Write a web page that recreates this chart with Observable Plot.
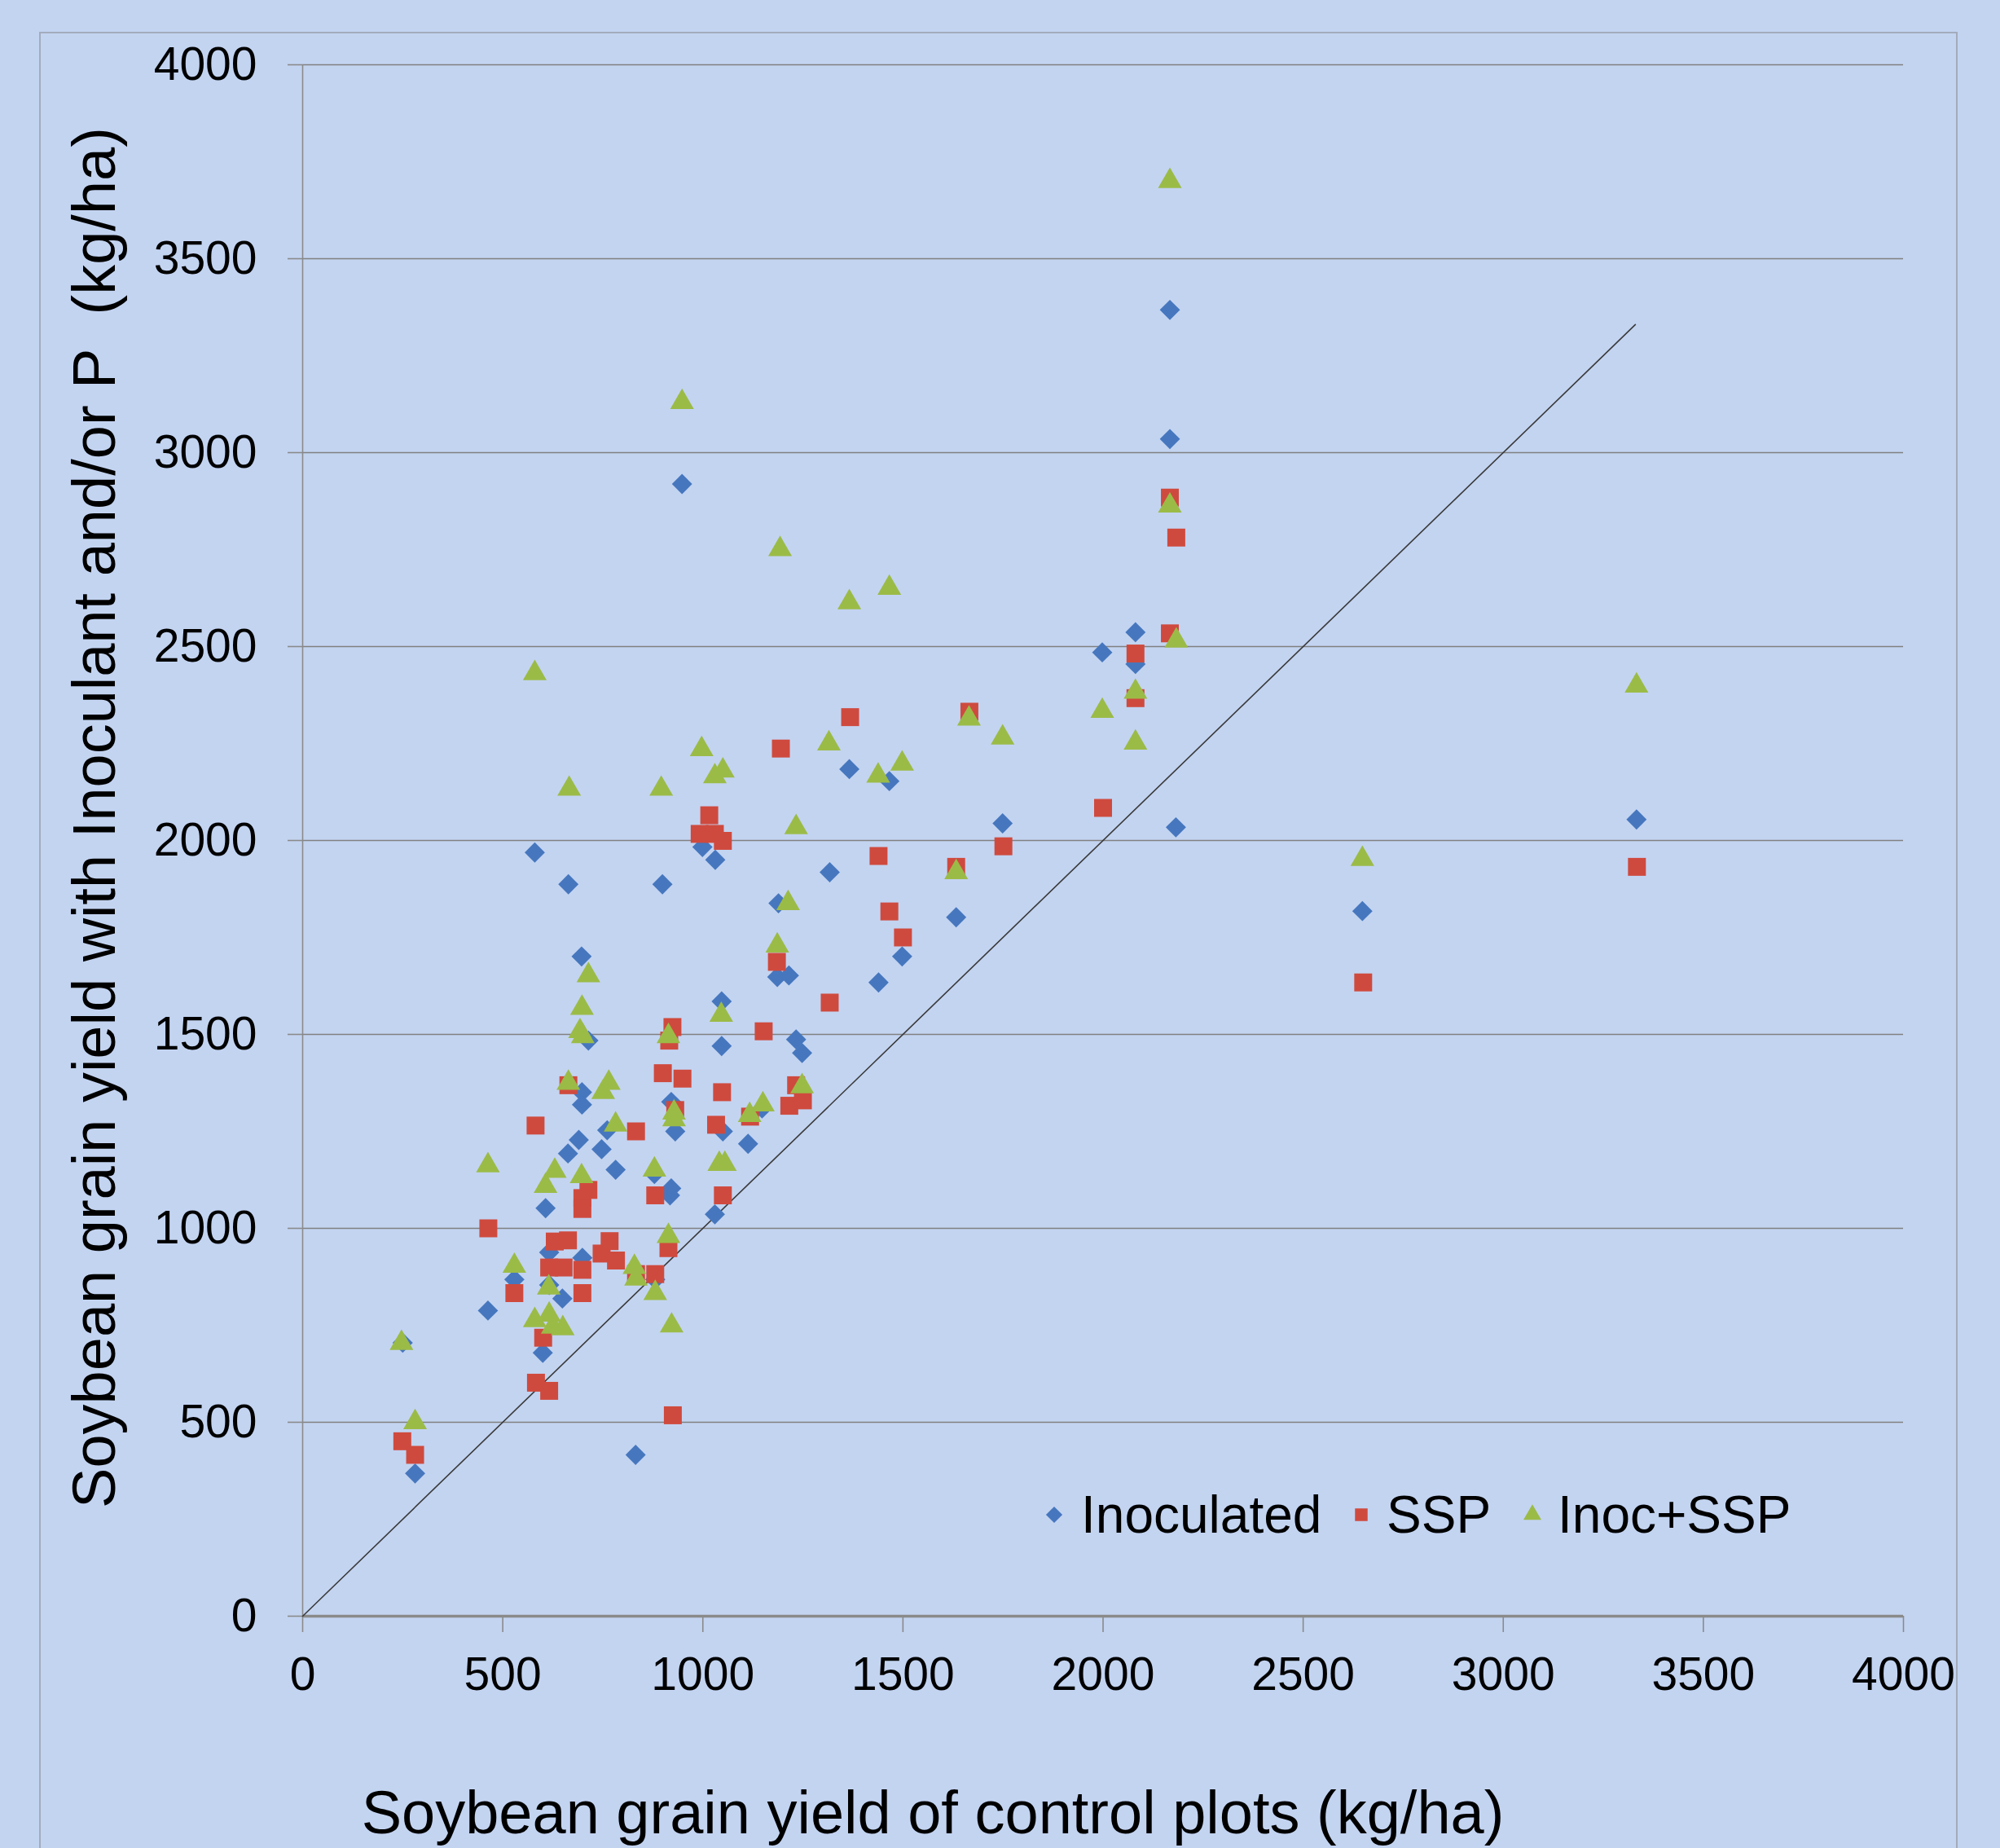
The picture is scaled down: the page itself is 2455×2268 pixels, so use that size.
<!DOCTYPE html>
<html>
<head>
<meta charset="utf-8">
<script src="https://cdn.jsdelivr.net/npm/d3@7"></script>
<script src="https://cdn.jsdelivr.net/npm/@observablehq/plot@0.6"></script>
<style>
  html, body { margin: 0; padding: 0; }
  body {
    width: 2455px; height: 2268px; overflow: hidden; position: relative;
    background: #c3d4f1;
    font-family: "Liberation Sans", Arial, sans-serif;
  }
  #frame {
    position: absolute; left: 48px; top: 39px; width: 2355px; height: 2260px;
    border: 2px solid #a3abbb; border-bottom: none; box-sizing: border-box;
  }
  #chart { position: absolute; left: 0; top: 0; }
  #legend { position: absolute; left: 0; top: 0; width: 2455px; height: 2268px; pointer-events: none; }
  .lg-item { position: absolute; font-size: 64px; line-height: 64px; color: #000; white-space: nowrap; }
  .lg-sym { position: absolute; }
</style>
</head>
<body>
<div id="frame"></div>
<div id="chart"></div>
<div id="legend"></div>
<script>
// ---- data (kg/ha) ----
const seriesNames = ["Inoculated", "SSP", "Inoc+SSP"];
const seriesColors = ["#4677be", "#cf4a3e", "#9bbb47"];

const inocX = [250,281,463,529,580,600,607,616,616,649,663,664,690,697,698,698,699,714,747,761,782,832,879,881,899,918,921,921,931,948,999,1030,1031,1047,1047,1050,1113,1148,1186,1189,1215,1233,1248,1317,1366,1439,1466,1498,1633,1749,1998,2081,2081,2167,2167,2182,2648,3333];
const inocY = [705,368,788,868,1969,679,1052,938,854,819,1193,1887,1228,1701,1351,1319,924,1484,1204,1253,1151,416,1140,868,1887,1085,1103,1326,1250,2919,1983,1036,1950,1585,1470,1250,1218,1309,1648,1838,1652,1487,1452,1918,2184,1634,2153,1701,1802,2044,2485,2537,2455,3368,3035,2034,1818,2054];

const sspX = [249,281,464,529,582,583,601,616,616,630,652,663,664,699,714,699,699,699,747,767,783,833,833,881,881,900,914,916,924,925,931,949,992,1016,1030,1050,1033,1048,1050,1118,1152,1185,1195,1216,1233,1250,1317,1368,1439,1466,1500,1633,1666,1751,2000,2081,2081,2167,2167,2183,2650,3334];
const sspY = [451,416,1000,833,1265,602,718,581,899,966,899,969,1369,1078,1099,1050,893,833,935,967,917,1250,882,1085,882,1400,949,1484,1519,518,1305,1386,2017,2065,2017,1999,1267,1351,1085,1288,1508,1687,2237,1316,1369,1330,1582,2318,1960,1817,1750,1932,2332,1985,2084,2482,2367,2884,2534,2781,1634,1932];

const bothX = [247,281,463,529,580,580,607,615,616,625,630,650,664,666,693,700,698,697,714,751,765,782,829,833,879,881,896,914,914,922,928,928,948,997,1030,1050,1041,1055,1046,1117,1150,1186,1193,1213,1233,1248,1315,1366,1438,1466,1498,1633,1665,1749,1998,2081,2081,2167,2167,2183,2648,3333];
const bothY = [704,500,1162,903,2431,763,1109,847,777,746,1148,742,1375,2133,1508,1495,1568,1134,1652,1351,1375,1267,900,870,1151,833,2133,980,1495,749,1298,1281,3130,2235,2165,2180,1166,1166,1550,1292,1319,1729,2751,1838,2034,1366,2250,2614,2167,2651,2198,1918,2314,2265,2334,2383,2252,3700,2863,2515,1952,2399];

const xTicks = [0,500,1000,1500,2000,2500,3000,3500,4000];
const yTicks = [0,500,1000,1500,2000,2500,3000,3500,4000];
const diagonal = [0, 3330];   // 1:1 line end points (x = y)

const xTitle = "Soybean grain yield of control plots (kg/ha)";
const yTitle = "Soybean grain yield with Inoculant and/or P\u00a0 (kg/ha)";

// ---- build tables ----
const toRows = (xs, ys) => xs.map((x, i) => ({x, y: ys[i]}));
const inoc = toRows(inocX, inocY);
const ssp = toRows(sspX, sspY);
const both = toRows(bothX, bothY);

const axisGray = "#8a8a8a";
const font = "'Liberation Sans', Arial, sans-serif";
const fmt = d => String(d);

const chart = Plot.plot({
  width: 2455,
  height: 2268,
  marginLeft: 371,
  marginRight: 119,
  marginTop: 79,
  marginBottom: 285,
  x: {domain: [0, 4000]},
  y: {domain: [0, 4000]},
  style: {background: "transparent", fontFamily: font, color: "black", overflow: "visible"},
  marks: [
    Plot.gridY(yTicks, {stroke: "#808080", strokeOpacity: 1, strokeWidth: 1.6}),
    Plot.ruleX([0], {stroke: axisGray, strokeWidth: 1.6}),
    Plot.axisY(yTicks, {tickSize: 18, tickPadding: 38, fontSize: 57, stroke: axisGray, strokeWidth: 1.6, fill: "black", tickFormat: fmt, label: null}),
    Plot.axisX(xTicks, {tickSize: 20, tickPadding: 30, fontSize: 57, stroke: axisGray, strokeWidth: 1.6, fill: "black", tickFormat: fmt, label: null}),
    Plot.ruleY([0], {stroke: axisGray, strokeWidth: 3.5}),
    Plot.line(diagonal, {x: d => d, y: d => d, stroke: "#3a3a3a", strokeWidth: 1.6}),
    Plot.dot(inoc, {x: "x", y: "y", symbol: "diamond2", r: 11.2, fill: seriesColors[0]}),
    Plot.dot(ssp, {x: "x", y: "y", symbol: "square", r: 12.4, fill: seriesColors[1]}),
    Plot.dot(both, {x: "x", y: "y", symbol: "triangle", r: 10.8, fill: seriesColors[2]}),
    Plot.text([yTitle], {text: d => d, frameAnchor: "left", textAnchor: "middle", lineAnchor: "middle", rotate: -90, dx: -254, dy: -28, fontSize: 74, fill: "black", fontFamily: font}),
    Plot.text([xTitle], {text: d => d, frameAnchor: "bottom", textAnchor: "middle", lineAnchor: "middle", dx: -209, dy: 243, fontSize: 74, fill: "black", fontFamily: font})
  ]
});
document.getElementById("chart").appendChild(chart);

// ---- legend (HTML) ----
const legend = document.getElementById("legend");
const symbolPaths = {
  "diamond2": d3.symbol(d3.symbolDiamond2, 260)(),
  "square": d3.symbol(d3.symbolSquare, 240)(),
  "triangle": d3.symbol(d3.symbolTriangle, 210)()
};
const legendLayout = [
  {sym: "diamond2", cx: 1294, tx: 1327},
  {sym: "square", cx: 1671, tx: 1702},
  {sym: "triangle", cx: 1881, tx: 1912}
];
const legendCy = 1859;
legendLayout.forEach((L, i) => {
  const svg = d3.create("svg").attr("class", "lg-sym")
    .attr("width", 30).attr("height", 30)
    .style("left", (L.cx - 15) + "px").style("top", (legendCy - 15) + "px");
  svg.append("path").attr("d", symbolPaths[L.sym]).attr("transform", "translate(15,15)").attr("fill", seriesColors[i]);
  legend.appendChild(svg.node());
  const t = document.createElement("div");
  t.className = "lg-item";
  t.textContent = seriesNames[i];
  t.style.left = L.tx + "px";
  t.style.top = (legendCy - 32) + "px";
  legend.appendChild(t);
});
</script>
</body>
</html>
